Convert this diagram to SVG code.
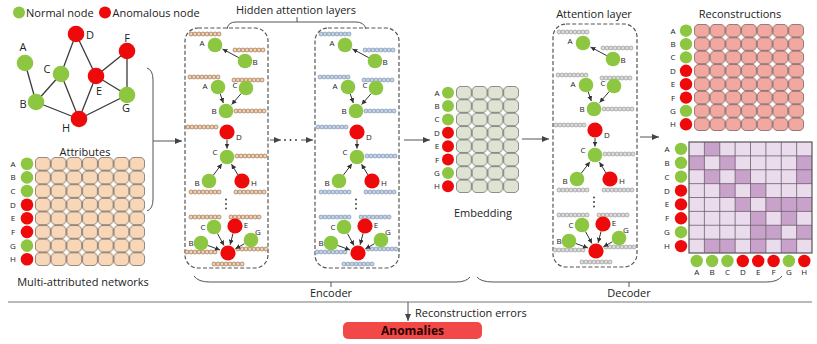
<svg xmlns="http://www.w3.org/2000/svg" xmlns:xlink="http://www.w3.org/1999/xlink" width="817" height="344" viewBox="0 0 817 344">
<style>
  text { font-family: "Open Sans", "Liberation Sans", sans-serif; fill: #222; stroke: none; }
  .ttl { font-size: 11px; }
  .gl { font-size: 11px; text-anchor: middle; }
  .rl { font-size: 8px; text-anchor: middle; }
  .bl { font-size: 8px; text-anchor: middle; }
  .gn { fill: #8dc641; stroke: none; }
  .rn { fill: #ee0a0a; stroke: none; }
  .edge { stroke: #3a3a3a; stroke-width: 1.3; }
  .ar { stroke: #333; stroke-width: 1; fill: none; marker-end: url(#ahs); }
  .con { stroke: #555; stroke-width: 1; fill: none; }
  .conA { stroke: #555; stroke-width: 1; fill: none; marker-end: url(#ah); }
  .dash { fill: none; stroke: #555; stroke-width: 1.2; stroke-dasharray: 4 2.2; }
  .dot { fill: #333; stroke: none; }
  .bead1 { fill: #f4d2b0; stroke: #8a5a3a; stroke-width: 0.6; }
  .bead2 { fill: #c4d2e4; stroke: #6a86aa; stroke-width: 0.6; }
  .bead3 { fill: #dcdcdc; stroke: #8a8a8a; stroke-width: 0.6; }
</style>
<defs>
  <marker id="ah" markerUnits="userSpaceOnUse" markerWidth="7" markerHeight="6" refX="7" refY="3" orient="auto">
    <path d="M0,0 L7,3 L0,6 z" fill="#444"/>
  </marker>
  <marker id="ahs" markerUnits="userSpaceOnUse" markerWidth="5" markerHeight="5" refX="5" refY="2.5" orient="auto">
    <path d="M0,0 L5,2.5 L0,5 z" fill="#333"/>
  </marker>
  <pattern id="pAttr" patternUnits="userSpaceOnUse" x="35" y="157" width="15.714" height="13.625">
    <rect x="0.4" y="0.4" width="14.914" height="12.825" rx="4.5" fill="#f8d6b8" stroke="#75675a" stroke-width="0.8"/>
  </pattern>
  <pattern id="pEmb" patternUnits="userSpaceOnUse" x="456" y="86" width="15.75" height="13.375">
    <rect x="0.4" y="0.4" width="14.95" height="12.575" rx="4.5" fill="#dfe3d3" stroke="#6c6c66" stroke-width="0.8"/>
  </pattern>
  <pattern id="pRec" patternUnits="userSpaceOnUse" x="694" y="24" width="15.714" height="13.375">
    <rect x="0.4" y="0.4" width="14.914" height="12.575" rx="4.5" fill="#f0a8a0" stroke="#7a5c58" stroke-width="0.8"/>
  </pattern>
  <!-- a row of eight feature beads; colour comes from the referencing element -->
  <g id="strip">
    <circle cx="2" cy="0" r="2"/><circle cx="6" cy="0" r="2"/><circle cx="10" cy="0" r="2"/><circle cx="14" cy="0" r="2"/>
    <circle cx="18" cy="0" r="2"/><circle cx="22" cy="0" r="2"/><circle cx="26" cy="0" r="2"/><circle cx="30" cy="0" r="2"/>
  </g>
  <!-- contents of one attention layer (neighbourhood aggregation examples) -->
  <g id="attn">
    <!-- B -> A -->
    <use href="#strip" x="189" y="34"/>
    <use href="#strip" x="233" y="50"/>
    <line class="ar" x1="238.8" y1="57.7" x2="222.5" y2="49"/>
    <circle class="gn" cx="215" cy="45" r="7.3"/>
    <circle class="gn" cx="245" cy="61" r="7.3"/>
    <text class="bl" x="202" y="46">A</text>
    <text class="bl" x="255" y="64.5">B</text>
    <!-- A, C -> B -->
    <use href="#strip" x="188" y="77"/>
    <use href="#strip" x="232" y="80"/>
    <use href="#strip" x="234" y="111"/>
    <line class="ar" x1="220.2" y1="93.7" x2="223.3" y2="103"/>
    <line class="ar" x1="241.4" y1="93.3" x2="231.6" y2="104.6"/>
    <circle class="gn" cx="218" cy="87" r="7.3"/>
    <circle class="gn" cx="246" cy="88" r="7.3"/>
    <circle class="gn" cx="226" cy="111" r="7.3"/>
    <text class="bl" x="205" y="89">A</text>
    <text class="bl" x="235" y="88">C</text>
    <text class="bl" x="214" y="113.5">B</text>
    <!-- D -> C, B and H -> C -->
    <use href="#strip" x="186" y="127"/>
    <use href="#strip" x="235" y="156"/>
    <use href="#strip" x="189" y="192"/>
    <use href="#strip" x="234" y="192"/>
    <line class="ar" x1="227" y1="140" x2="227" y2="148.5"/>
    <line class="ar" x1="213.2" y1="175.4" x2="221.9" y2="163.8"/>
    <line class="ar" x1="238" y1="175" x2="231.5" y2="164.2"/>
    <circle class="rn" cx="227" cy="132" r="7.6"/>
    <circle class="gn" cx="227" cy="157" r="7.3"/>
    <circle class="gn" cx="209" cy="181" r="7.3"/>
    <circle class="rn" cx="242" cy="181" r="7.6"/>
    <text class="bl" x="239" y="140">D</text>
    <text class="bl" x="215" y="155">C</text>
    <text class="bl" x="197" y="186">B</text>
    <text class="bl" x="254" y="186">H</text>
    <circle class="dot" cx="226" cy="199.5" r="0.9"/>
    <circle class="dot" cx="226" cy="204" r="0.9"/>
    <circle class="dot" cx="226" cy="208.5" r="0.9"/>
    <!-- C, E, B, G -> anomalous centre -->
    <use href="#strip" x="189" y="217"/>
    <use href="#strip" x="229" y="217"/>
    <use href="#strip" x="185" y="252"/>
    <use href="#strip" x="236" y="249"/>
    <use href="#strip" x="212" y="264"/>
    <line class="ar" x1="217.5" y1="233.6" x2="224" y2="245.5"/>
    <line class="ar" x1="233.1" y1="233.3" x2="230.1" y2="244.8"/>
    <line class="ar" x1="207.6" y1="245.4" x2="220" y2="250"/>
    <line class="ar" x1="244.5" y1="243.7" x2="235.4" y2="248.8"/>
    <circle class="gn" cx="214" cy="227" r="7.3"/>
    <circle class="rn" cx="235" cy="226" r="7.6"/>
    <circle class="gn" cx="201" cy="243" r="7.3"/>
    <circle class="gn" cx="251" cy="240" r="7.3"/>
    <circle class="rn" cx="228" cy="253" r="7.6"/>
    <text class="bl" x="203" y="230">C</text>
    <text class="bl" x="246" y="228">E</text>
    <text class="bl" x="258" y="235">G</text>
    <text class="bl" x="191" y="246">B</text>
  </g>
</defs>

<rect width="817" height="344" fill="#ffffff"/>

<!-- legend -->
<g id="legend">
  <circle class="gn" cx="19" cy="12.5" r="6"/>
  <text class="ttl" x="26" y="16.5" font-size="10.5">Normal node</text>
  <circle class="rn" cx="105" cy="12.5" r="6"/>
  <text class="ttl" x="112.5" y="16.5" font-size="10.5">Anomalous node</text>
</g>

<!-- input network -->
<g id="network">
  <g id="edges">
    <line class="edge" x1="25" y1="63" x2="36" y2="102"/>
    <line class="edge" x1="36" y1="102" x2="61" y2="74"/>
    <line class="edge" x1="36" y1="102" x2="79" y2="119"/>
    <line class="edge" x1="61" y1="74" x2="76" y2="34"/>
    <line class="edge" x1="61" y1="74" x2="79" y2="119"/>
    <line class="edge" x1="76" y1="34" x2="96" y2="76"/>
    <line class="edge" x1="96" y1="76" x2="127" y2="51"/>
    <line class="edge" x1="96" y1="76" x2="127" y2="95"/>
    <line class="edge" x1="96" y1="76" x2="79" y2="119"/>
    <line class="edge" x1="127" y1="51" x2="127" y2="95"/>
    <line class="edge" x1="127" y1="95" x2="79" y2="119"/>
  </g>
  <g id="node-A"><circle class="gn" cx="25" cy="63" r="8.3"/><text class="gl" x="23" y="51">A</text></g>
  <g id="node-B"><circle class="gn" cx="36" cy="102" r="8.3"/><text class="gl" x="23" y="107.5">B</text></g>
  <g id="node-C"><circle class="gn" cx="61" cy="74" r="8.3"/><text class="gl" x="47" y="73">C</text></g>
  <g id="node-D"><circle class="rn" cx="76" cy="34" r="8.3"/><text class="gl" x="90" y="38.5">D</text></g>
  <g id="node-E"><circle class="rn" cx="96" cy="76" r="8.3"/><text class="gl" x="99" y="95">E</text></g>
  <g id="node-F"><circle class="rn" cx="127" cy="51" r="8.3"/><text class="gl" x="127" y="42">F</text></g>
  <g id="node-G"><circle class="gn" cx="127" cy="95" r="8.3"/><text class="gl" x="126" y="112">G</text></g>
  <g id="node-H"><circle class="rn" cx="79" cy="119" r="8.3"/><text class="gl" x="66" y="132">H</text></g>
</g>

<!-- attribute matrix -->
<g id="attributes">
  <text class="ttl" x="85" y="156" text-anchor="middle">Attributes</text>
  <rect x="35" y="157" width="110" height="109" fill="url(#pAttr)"/>
  <g>
    <text class="rl" x="13" y="166.8">A</text><circle class="gn" cx="27" cy="163.8" r="6.3"/>
    <text class="rl" x="13" y="180.4">B</text><circle class="gn" cx="27" cy="177.4" r="6.3"/>
    <text class="rl" x="13" y="194">C</text><circle class="gn" cx="27" cy="191" r="6.3"/>
    <text class="rl" x="13" y="207.7">D</text><circle class="rn" cx="27" cy="204.7" r="6.3"/>
    <text class="rl" x="13" y="221.3">E</text><circle class="rn" cx="27" cy="218.3" r="6.3"/>
    <text class="rl" x="13" y="234.9">F</text><circle class="rn" cx="27" cy="231.9" r="6.3"/>
    <text class="rl" x="13" y="248.6">G</text><circle class="gn" cx="27" cy="245.6" r="6.3"/>
    <text class="rl" x="13" y="262.2">H</text><circle class="rn" cx="27" cy="259.2" r="6.3"/>
  </g>
  <text class="ttl" x="83" y="286" text-anchor="middle">Multi-attributed networks</text>
</g>

<!-- encoder: hidden attention layers -->
<g id="encoder-layer-1">
  <rect class="dash" x="185" y="28" width="83" height="240" rx="13"/>
  <use href="#attn" class="bead1"/>
</g>
<g id="encoder-layer-2">
  <rect class="dash" x="315" y="28" width="84" height="240" rx="13"/>
  <use href="#attn" class="bead2" transform="translate(130,0)"/>
</g>
<text class="ttl" x="296" y="14" text-anchor="middle">Hidden attention layers</text>

<!-- embedding matrix -->
<g id="embedding">
  <rect x="456" y="86" width="63" height="107" fill="url(#pEmb)"/>
  <g>
    <text class="rl" x="437" y="95.7">A</text><circle class="gn" cx="448" cy="92.7" r="6"/>
    <text class="rl" x="437" y="109.1">B</text><circle class="gn" cx="448" cy="106.1" r="6"/>
    <text class="rl" x="437" y="122.4">C</text><circle class="gn" cx="448" cy="119.4" r="6"/>
    <text class="rl" x="437" y="135.8">D</text><circle class="rn" cx="448" cy="132.8" r="6"/>
    <text class="rl" x="437" y="149.2">E</text><circle class="rn" cx="448" cy="146.2" r="6"/>
    <text class="rl" x="437" y="162.6">F</text><circle class="rn" cx="448" cy="159.6" r="6"/>
    <text class="rl" x="437" y="175.9">G</text><circle class="gn" cx="448" cy="172.9" r="6"/>
    <text class="rl" x="437" y="189.3">H</text><circle class="rn" cx="448" cy="186.3" r="6"/>
  </g>
  <text class="ttl" x="483" y="217" text-anchor="middle">Embedding</text>
</g>

<!-- decoder: attention layer -->
<g id="decoder-layer">
  <rect class="dash" x="553" y="24" width="84" height="243" rx="13"/>
  <use href="#attn" class="bead3" transform="translate(368,-2)"/>
  <text class="ttl" x="594" y="18" text-anchor="middle">Attention layer</text>
</g>

<!-- reconstructed attributes -->
<g id="reconstructions">
  <text class="ttl" x="740" y="18" text-anchor="middle">Reconstructions</text>
  <rect x="694" y="24" width="110" height="107" fill="url(#pRec)"/>
  <g>
    <text class="rl" x="673" y="33.7">A</text><circle class="gn" cx="686" cy="30.7" r="6.2"/>
    <text class="rl" x="673" y="47.1">B</text><circle class="gn" cx="686" cy="44.1" r="6.2"/>
    <text class="rl" x="673" y="60.4">C</text><circle class="gn" cx="686" cy="57.4" r="6.2"/>
    <text class="rl" x="673" y="73.8">D</text><circle class="rn" cx="686" cy="70.8" r="6.2"/>
    <text class="rl" x="673" y="87.2">E</text><circle class="rn" cx="686" cy="84.2" r="6.2"/>
    <text class="rl" x="673" y="100.6">F</text><circle class="rn" cx="686" cy="97.6" r="6.2"/>
    <text class="rl" x="673" y="113.9">G</text><circle class="gn" cx="686" cy="110.9" r="6.2"/>
    <text class="rl" x="673" y="127.3">H</text><circle class="rn" cx="686" cy="124.3" r="6.2"/>
  </g>
</g>

<!-- reconstructed structure (adjacency) -->
<g id="adjacency">
  <rect x="689" y="142" width="123" height="111" fill="#eadcec"/>
  <g fill="#c9a2cb">
    <rect x="704.375" y="142" width="15.375" height="13.875"/>
    <rect x="689" y="155.875" width="15.375" height="13.875"/>
    <rect x="719.75" y="155.875" width="15.375" height="13.875"/>
    <rect x="796.625" y="155.875" width="15.375" height="13.875"/>
    <rect x="704.375" y="169.75" width="15.375" height="13.875"/>
    <rect x="735.125" y="169.75" width="15.375" height="13.875"/>
    <rect x="796.625" y="169.75" width="15.375" height="13.875"/>
    <rect x="719.75" y="183.625" width="15.375" height="13.875"/>
    <rect x="750.5" y="183.625" width="15.375" height="13.875"/>
    <rect x="735.125" y="197.5" width="15.375" height="13.875"/>
    <rect x="765.875" y="197.5" width="15.375" height="13.875"/>
    <rect x="781.25" y="197.5" width="15.375" height="13.875"/>
    <rect x="796.625" y="197.5" width="15.375" height="13.875"/>
    <rect x="750.5" y="211.375" width="15.375" height="13.875"/>
    <rect x="781.25" y="211.375" width="15.375" height="13.875"/>
    <rect x="750.5" y="225.25" width="15.375" height="13.875"/>
    <rect x="765.875" y="225.25" width="15.375" height="13.875"/>
    <rect x="796.625" y="225.25" width="15.375" height="13.875"/>
    <rect x="704.375" y="239.125" width="15.375" height="13.875"/>
    <rect x="719.75" y="239.125" width="15.375" height="13.875"/>
    <rect x="750.5" y="239.125" width="15.375" height="13.875"/>
    <rect x="781.25" y="239.125" width="15.375" height="13.875"/>
  </g>
  <path d="M704.375,142V253M719.75,142V253M735.125,142V253M750.5,142V253M765.875,142V253M781.25,142V253M796.625,142V253M689,155.875H812M689,169.75H812M689,183.625H812M689,197.5H812M689,211.375H812M689,225.25H812M689,239.125H812" fill="none" stroke="#6a5f6a" stroke-width="0.8"/>
  <rect x="689" y="142" width="123" height="111" fill="none" stroke="#555" stroke-width="1.2"/>
  <g>
    <text class="rl" x="667" y="151.9">A</text><circle class="gn" cx="681" cy="148.9" r="6.2"/>
    <text class="rl" x="667" y="165.8">B</text><circle class="gn" cx="681" cy="162.8" r="6.2"/>
    <text class="rl" x="667" y="179.7">C</text><circle class="gn" cx="681" cy="176.7" r="6.2"/>
    <text class="rl" x="667" y="193.6">D</text><circle class="rn" cx="681" cy="190.6" r="6.2"/>
    <text class="rl" x="667" y="207.4">E</text><circle class="rn" cx="681" cy="204.4" r="6.2"/>
    <text class="rl" x="667" y="221.3">F</text><circle class="rn" cx="681" cy="218.3" r="6.2"/>
    <text class="rl" x="667" y="235.2">G</text><circle class="gn" cx="681" cy="232.2" r="6.2"/>
    <text class="rl" x="667" y="249.1">H</text><circle class="rn" cx="681" cy="246.1" r="6.2"/>
  </g>
  <g>
    <circle class="gn" cx="696.7" cy="261" r="6.2"/><text class="rl" x="696.7" y="275">A</text>
    <circle class="gn" cx="712.1" cy="261" r="6.2"/><text class="rl" x="712.1" y="275">B</text>
    <circle class="gn" cx="727.4" cy="261" r="6.2"/><text class="rl" x="727.4" y="275">C</text>
    <circle class="rn" cx="742.8" cy="261" r="6.2"/><text class="rl" x="742.8" y="275">D</text>
    <circle class="rn" cx="758.2" cy="261" r="6.2"/><text class="rl" x="758.2" y="275">E</text>
    <circle class="rn" cx="773.6" cy="261" r="6.2"/><text class="rl" x="773.6" y="275">F</text>
    <circle class="gn" cx="788.9" cy="261" r="6.2"/><text class="rl" x="788.9" y="275">G</text>
    <circle class="rn" cx="804.3" cy="261" r="6.2"/><text class="rl" x="804.3" y="275">H</text>
  </g>
</g>

<!-- connectors -->
<g id="connectors">
  <path class="con" d="M147,68 Q153,70 153,80 L153,199 Q153,209 147,211"/>
  <line class="conA" x1="153" y1="141" x2="182" y2="141"/>
  <line class="conA" x1="270" y1="140" x2="281" y2="140"/>
  <circle class="dot" cx="285" cy="140" r="0.9"/>
  <circle class="dot" cx="290.5" cy="140" r="0.9"/>
  <circle class="dot" cx="296" cy="140" r="0.9"/>
  <line class="conA" x1="301" y1="140" x2="313" y2="140"/>
  <line class="conA" x1="404" y1="140" x2="430" y2="140"/>
  <line class="conA" x1="522" y1="139" x2="549" y2="139"/>
  <line class="conA" x1="640" y1="137" x2="659" y2="137"/>
  <path class="con" d="M227,29 Q228,22 236,22 L356,22 Q364,22 366,29 M297,22 L297,17"/>
  <path class="con" d="M194,276 Q198,282 210,282 L456,282 Q466,282 470,277 M331,282 L331,287"/>
  <path class="con" d="M477,277 Q481,282 493,282 L766,282 Q778,282 782,276 M629,282 L629,287"/>
  <line x1="8" y1="302" x2="812" y2="302" stroke="#777" stroke-width="1.2"/>
  <line class="conA" x1="408" y1="302" x2="408" y2="321"/>
</g>

<text class="ttl" x="331" y="297" text-anchor="middle">Encoder</text>
<text class="ttl" x="629" y="297" text-anchor="middle">Decoder</text>
<text class="ttl" x="415" y="317">Reconstruction errors</text>

<g id="anomalies">
  <rect x="343" y="322" width="139" height="17" rx="5" fill="#f24848"/>
  <text x="412.5" y="334.5" text-anchor="middle" font-size="12" font-weight="bold" style="fill:#2a0000">Anomalies</text>
</g>
</svg>
